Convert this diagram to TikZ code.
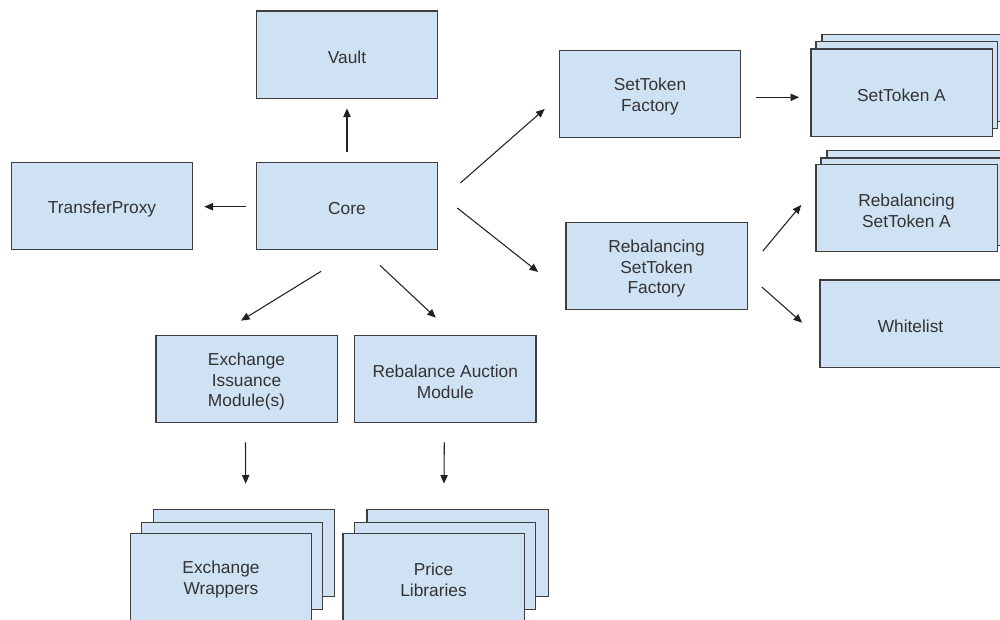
\documentclass[tikz,border=0pt]{standalone}
\usepackage{fontspec}
\setmainfont{Liberation Sans}
\usetikzlibrary{calc,arrows.meta}
\definecolor{boxfill}{HTML}{CFE2F3}
\definecolor{boxline}{HTML}{3F3F3F}
\definecolor{txt}{HTML}{333333}
\definecolor{arrowc}{HTML}{222222}
\tikzset{
  box/.style={draw=boxline, fill=boxfill, line width=1pt, rectangle,
    minimum width=136pt, minimum height=65.5pt, inner sep=0pt},
  lbl/.style={align=center, text=txt, inner sep=0pt, yshift=-1.9pt,
    font=\fontsize{13}{15.5}\selectfont},
  arr/.style={draw=arrowc, line width=0.8pt,
    -{Triangle[length=6.5pt,width=5.5pt]}}
}
\begin{document}
\begin{tikzpicture}[x=0.75pt, y=-0.75pt]
\useasboundingbox (0,0) rectangle (1000,619);
\clip (0,0) rectangle (1000,619);

% single boxes
\node[box, label={[lbl]center:Vault}] (vault) at (347,54.5) {};
\node[box, label={[lbl]center:Core}] (core) at (347,206) {};
\node[box, label={[lbl]center:TransferProxy}] (tp) at (102,206) {};
\node[box, label={[lbl]center:SetToken\\Factory}] (stf) at (650,94) {};
\node[box, label={[lbl]center:Rebalancing\\SetToken\\Factory}] (rf) at (656.5,266) {};
\node[box, label={[lbl]center:Whitelist}] (wl) at (910.5,323.7) {};
\node[box, label={[lbl]center:Exchange\\Issuance\\Module(s)}] (ei) at (246.5,379) {};
\node[box, label={[lbl]center:Rebalance Auction\\Module}] (ra) at (445.3,379) {};

% stacked boxes: back copies first
\node[box] (sta3) at (912.5,78) {};
\node[box] (sta2) at (906.5,85) {};
\node[box, label={[lbl]center:SetToken A}] (sta) at (901.5,92.5) {};

\node[box] (rsa3) at (917.5,194) {};
\node[box] (rsa2) at (911.5,201.5) {};
\node[box, label={[lbl]center:Rebalancing\\SetToken A}] (rsa) at (906.5,208) {};

\node[box] (ew3) at (244,553) {};
\node[box] (ew2) at (232,566) {};
\node[box, label={[lbl]center:Exchange\\Wrappers}] (ew) at (221,577) {};

\node[box] (pl3) at (457.5,553) {};
\node[box] (pl2) at (445,566) {};
\node[box, label={[lbl]center:Price\\Libraries}] (pl) at (433.5,577) {};

% connectors
\draw[arr] ($(core.north)+(0,-10)$) -- ($(vault.south)+(0,9.5)$);
\draw[arr] ($(core.west)+(-9.5,0.7)$) -- ($(tp.east)+(11,0.7)$);
\draw[arr] ($(core.east)+(22,-23)$) -- ($(stf.west)+(-14,15)$);
\draw[arr] ($(core.east)+(19,2)$) -- ($(rf.west)+(-27,6)$);
\draw[arr] ($(core.south)+(-26,21)$) -- ($(ei.north)+(-5.5,-14)$);
\draw[arr] ($(core.south)+(33,15)$) -- ($(ra.north)+(-9.5,-17)$);
\draw[arr] ($(stf.east)+(15,3.3)$) -- ($(sta.west)+(-11,4.8)$);
\draw[arr] ($(rf.east)+(15,-15)$) -- ($(rsa.west)+(-14,-3)$);
\draw[arr] ($(rf.east)+(14,21)$) -- ($(wl.west)+(-17,-1)$);
\draw[arr] ($(ei.south)+(-1,19)$) -- ($(ew.north)+(24.7,-49)$);
\draw[arr] ($(ra.south)+(-1,19)$) -- ($(pl.north)+(10.5,-49)$);
\end{tikzpicture}
\end{document}
